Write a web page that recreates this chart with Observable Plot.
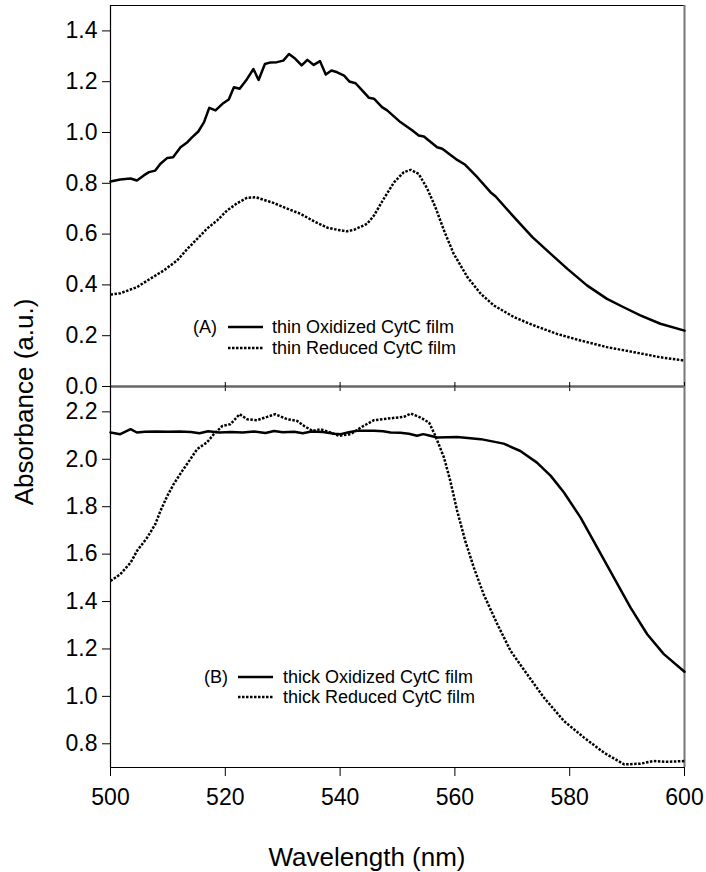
<!DOCTYPE html>
<html><head><meta charset="utf-8">
<script src="https://cdn.jsdelivr.net/npm/d3@7"></script>
<script src="https://cdn.jsdelivr.net/npm/@observablehq/plot@0.6"></script>
<style>
body{margin:0;background:#fff;font-family:"Liberation Sans",Arial,sans-serif;color:#000;}
#wrap{position:relative;width:706px;height:872px;overflow:hidden;}
#top,#bot{position:absolute;left:0;}
#top{top:0;} #bot{top:380px;}
.t{position:absolute;font-size:18px;line-height:20px;white-space:nowrap;transform:translateY(-50%);}
.sw{position:absolute;}
.ax{position:absolute;font-size:26px;white-space:nowrap;}
</style></head><body>
<div id="wrap">
  <div id="top"></div>
  <div id="bot"></div>
  <div class="ax" style="left:24px;top:402px;transform:translate(-50%,-50%) rotate(-90deg);">Absorbance (a.u.)</div>
  <div class="ax" style="left:367px;top:857px;transform:translate(-50%,-50%);">Wavelength (nm)</div>
  <div id="legA"></div>
  <div id="legB"></div>
</div>
<script>
const FONT = '"Liberation Sans", Arial, sans-serif';
const xTicks = [500, 520, 540, 560, 580, 600];
const topTicks = [0, 0.2, 0.4, 0.6, 0.8, 1.0, 1.2, 1.4];
const botTicks = [0.8, 1.0, 1.2, 1.4, 1.6, 1.8, 2.0, 2.2];
const topDomain = [0, 1.5];
const botDomain = [0.7, 2.307];
const xDomain = [500, 600];

const legendA = ["(A)", "thin Oxidized CytC film", "thin Reduced CytC film"];
const legendB = ["(B)", "thick Oxidized CytC film", "thick Reduced CytC film"];

// thin oxidized CytC film
const thinOxWl  = [500,501.7,503.5,504.6,505.8,506.7,507.8,508.7,509.9,510.9,512.2,513.4,514.2,515.3,516.3,517.2,518.3,519.5,520.6,521.5,522.5,523.8,524.9,525.8,526.9,527.9,529.0,530.1,531.1,532.2,533.3,534.3,535.4,536.5,537.5,538.5,539.5,540.7,541.6,542.7,543.6,545.0,545.9,547.3,548.2,550.5,552.6,553.7,554.6,556.9,557.8,560.4,561.8,563.9,566.2,567.1,570.3,573.5,576.7,579.6,583.0,586.5,589.4,592.3,595.8,600];
const thinOxAbs = [0.807,0.815,0.819,0.811,0.831,0.844,0.850,0.877,0.900,0.903,0.942,0.962,0.981,1.004,1.041,1.097,1.087,1.113,1.130,1.178,1.172,1.211,1.250,1.207,1.270,1.276,1.277,1.283,1.309,1.290,1.264,1.286,1.266,1.281,1.228,1.244,1.237,1.224,1.201,1.194,1.172,1.137,1.133,1.100,1.087,1.041,1.008,0.988,0.984,0.942,0.936,0.892,0.873,0.824,0.765,0.748,0.667,0.588,0.522,0.463,0.398,0.345,0.312,0.280,0.247,0.220];

// thin reduced CytC film
const thinRedWl  = [500,501.7,504.6,506.9,509.3,511.6,513.4,515.1,516.8,518.6,520.3,522.1,523.8,525.3,526.7,528.5,530.8,533.1,535.4,537.8,539.5,541.2,542.4,544.7,545.9,547.6,549.4,551.1,552.3,553.7,555.2,556.6,558.1,559.8,562.2,564.5,566.8,570.3,573.8,577.8,581.9,586.5,591.2,595.8,600];
const thinRedAbs = [0.362,0.367,0.391,0.424,0.457,0.496,0.542,0.581,0.621,0.654,0.693,0.722,0.743,0.745,0.735,0.722,0.700,0.680,0.651,0.625,0.617,0.611,0.617,0.640,0.673,0.739,0.804,0.844,0.853,0.837,0.778,0.706,0.614,0.522,0.430,0.365,0.319,0.273,0.240,0.207,0.181,0.155,0.135,0.115,0.102];

// thick oxidized CytC film
const thickOxWl  = [500,501.7,503.5,504.6,506,508,510,512,514,515.5,517,519,521,523,525,527,528.5,530,532,533.5,535,537,539,540.1,541.5,543,545.9,547.5,548.8,550.5,552,553.4,554.5,555.5,556.9,560.4,564.5,568.5,571.4,574.3,576.7,579.0,581.9,584.8,587.7,590.6,593.5,596.4,600];
const thickOxAbs = [2.113,2.106,2.127,2.113,2.116,2.117,2.116,2.117,2.115,2.110,2.118,2.113,2.115,2.113,2.117,2.111,2.119,2.114,2.116,2.110,2.117,2.115,2.108,2.106,2.114,2.120,2.120,2.118,2.113,2.112,2.108,2.099,2.106,2.100,2.092,2.094,2.085,2.066,2.035,1.986,1.930,1.860,1.754,1.627,1.501,1.374,1.262,1.178,1.104];

// thick reduced CytC film
const thickRedWl  = [500,501.7,503.5,504.6,506.4,507.8,508.7,509.9,511.0,512.5,513.9,515.1,516.8,518.0,519.5,520.9,522.5,523.8,525.5,527.3,528.7,530.8,532.5,533.7,535.2,536.6,538.3,539.8,541.8,544.1,545.9,548.8,551.1,552.3,554.0,555.5,556.6,558.1,559.2,560.4,561.8,563.3,565.0,567.4,569.7,572.6,575.5,579.0,582.5,586.0,589.5,592.3,594.6,596.9,600];
const thickRedAbs = [1.487,1.515,1.564,1.613,1.670,1.726,1.782,1.846,1.895,1.951,2.000,2.043,2.071,2.106,2.141,2.148,2.190,2.169,2.165,2.179,2.190,2.169,2.162,2.141,2.120,2.127,2.113,2.099,2.106,2.141,2.165,2.173,2.179,2.193,2.176,2.155,2.099,2.007,1.909,1.782,1.656,1.543,1.431,1.304,1.192,1.093,0.995,0.896,0.826,0.762,0.713,0.716,0.727,0.724,0.727];

const zip = (w, a) => w.map((d, i) => ({wl: d, abs: a[i]}));
const thinOx = zip(thinOxWl, thinOxAbs);
const thinRed = zip(thinRedWl, thinRedAbs);
const thickOx = zip(thickOxWl, thickOxAbs);
const thickRed = zip(thickRedWl, thickRedAbs);

const DASH = "2.5,1.5";
const solidStyle = {x: "wl", y: "abs", stroke: "#000", strokeWidth: 2.5};
const dotStyle = {x: "wl", y: "abs", stroke: "#000", strokeWidth: 2.5, strokeDasharray: DASH, strokeLinecap: "butt", strokeLinejoin: "miter"};
const common = {
  width: 706, marginLeft: 110, marginRight: 22,
  style: {background: "transparent", fontFamily: FONT, fontSize: "23px", color: "#000", overflow: "visible"},
  x: {domain: xDomain}
};

const topPlot = Plot.plot({
  ...common, height: 392, marginTop: 5, marginBottom: 6,
  y: {domain: topDomain},
  marks: [
    Plot.axisY({ticks: topTicks, tickFormat: ".1f", tickSize: 8, tickPadding: 5, label: null}),
    Plot.axisX({ticks: xTicks, tickSize: 5, tickFormat: () => "", label: null}),
    Plot.ruleY([topDomain[1]], {stroke: "#000", strokeWidth: 1.2}),
    Plot.ruleY([topDomain[0]], {stroke: "#666", strokeWidth: 2.5}),
    Plot.ruleX([xDomain[0]], {stroke: "#000", strokeWidth: 1.2}),
    Plot.ruleX([xDomain[1]], {stroke: "#777", strokeWidth: 2}),
    Plot.line(thinOx, solidStyle),
    Plot.line(thinRed, dotStyle)
  ]
});
document.getElementById("top").appendChild(topPlot);

const botPlot = Plot.plot({
  ...common, height: 492, marginTop: 6, marginBottom: 105,
  y: {domain: botDomain},
  marks: [
    Plot.axisY({ticks: botTicks, tickFormat: ".1f", tickSize: 8, tickPadding: 5, label: null}),
    Plot.axisX({ticks: xTicks, tickSize: 9, tickPadding: 12, label: null}),
    Plot.axisX({anchor: "top", ticks: xTicks, tickSize: 5, tickFormat: () => "", label: null}),
    Plot.ruleY([botDomain[0]], {stroke: "#000", strokeWidth: 1.2}),
    Plot.ruleX([xDomain[0]], {stroke: "#000", strokeWidth: 1.2}),
    Plot.ruleX([xDomain[1]], {stroke: "#777", strokeWidth: 2}),
    Plot.line(thickOx, solidStyle),
    Plot.line(thickRed, dotStyle)
  ]
});
document.getElementById("bot").appendChild(botPlot);

function legend(el, labels, tagX, lineX, textX, y1, y2) {
  const host = document.getElementById(el);
  const mk = (cls, x, y, txt) => {
    const d = document.createElement("div");
    d.className = cls; d.style.left = x + "px"; d.style.top = y + "px"; d.textContent = txt;
    host.appendChild(d);
  };
  const sw = (x, y, dash) => {
    const ns = "http://www.w3.org/2000/svg";
    const s = document.createElementNS(ns, "svg");
    s.setAttribute("class", "sw"); s.setAttribute("width", 36); s.setAttribute("height", 6);
    s.style.left = x + "px"; s.style.top = (y - 3) + "px";
    const l = document.createElementNS(ns, "line");
    l.setAttribute("x1", 0); l.setAttribute("x2", 35); l.setAttribute("y1", 3); l.setAttribute("y2", 3);
    l.setAttribute("stroke", "#000"); l.setAttribute("stroke-width", 2.5);
    if (dash) l.setAttribute("stroke-dasharray", DASH);
    s.appendChild(l); host.appendChild(s);
  };
  mk("t", tagX, y1, labels[0]);
  sw(lineX, y1, false);
  mk("t", textX, y1, labels[1]);
  sw(lineX, y2, true);
  mk("t", textX, y2, labels[2]);
}
legend("legA", legendA, 193, 228, 272, 327, 348);
legend("legB", legendB, 204, 238, 283, 677, 697);
</script>
</body></html>
